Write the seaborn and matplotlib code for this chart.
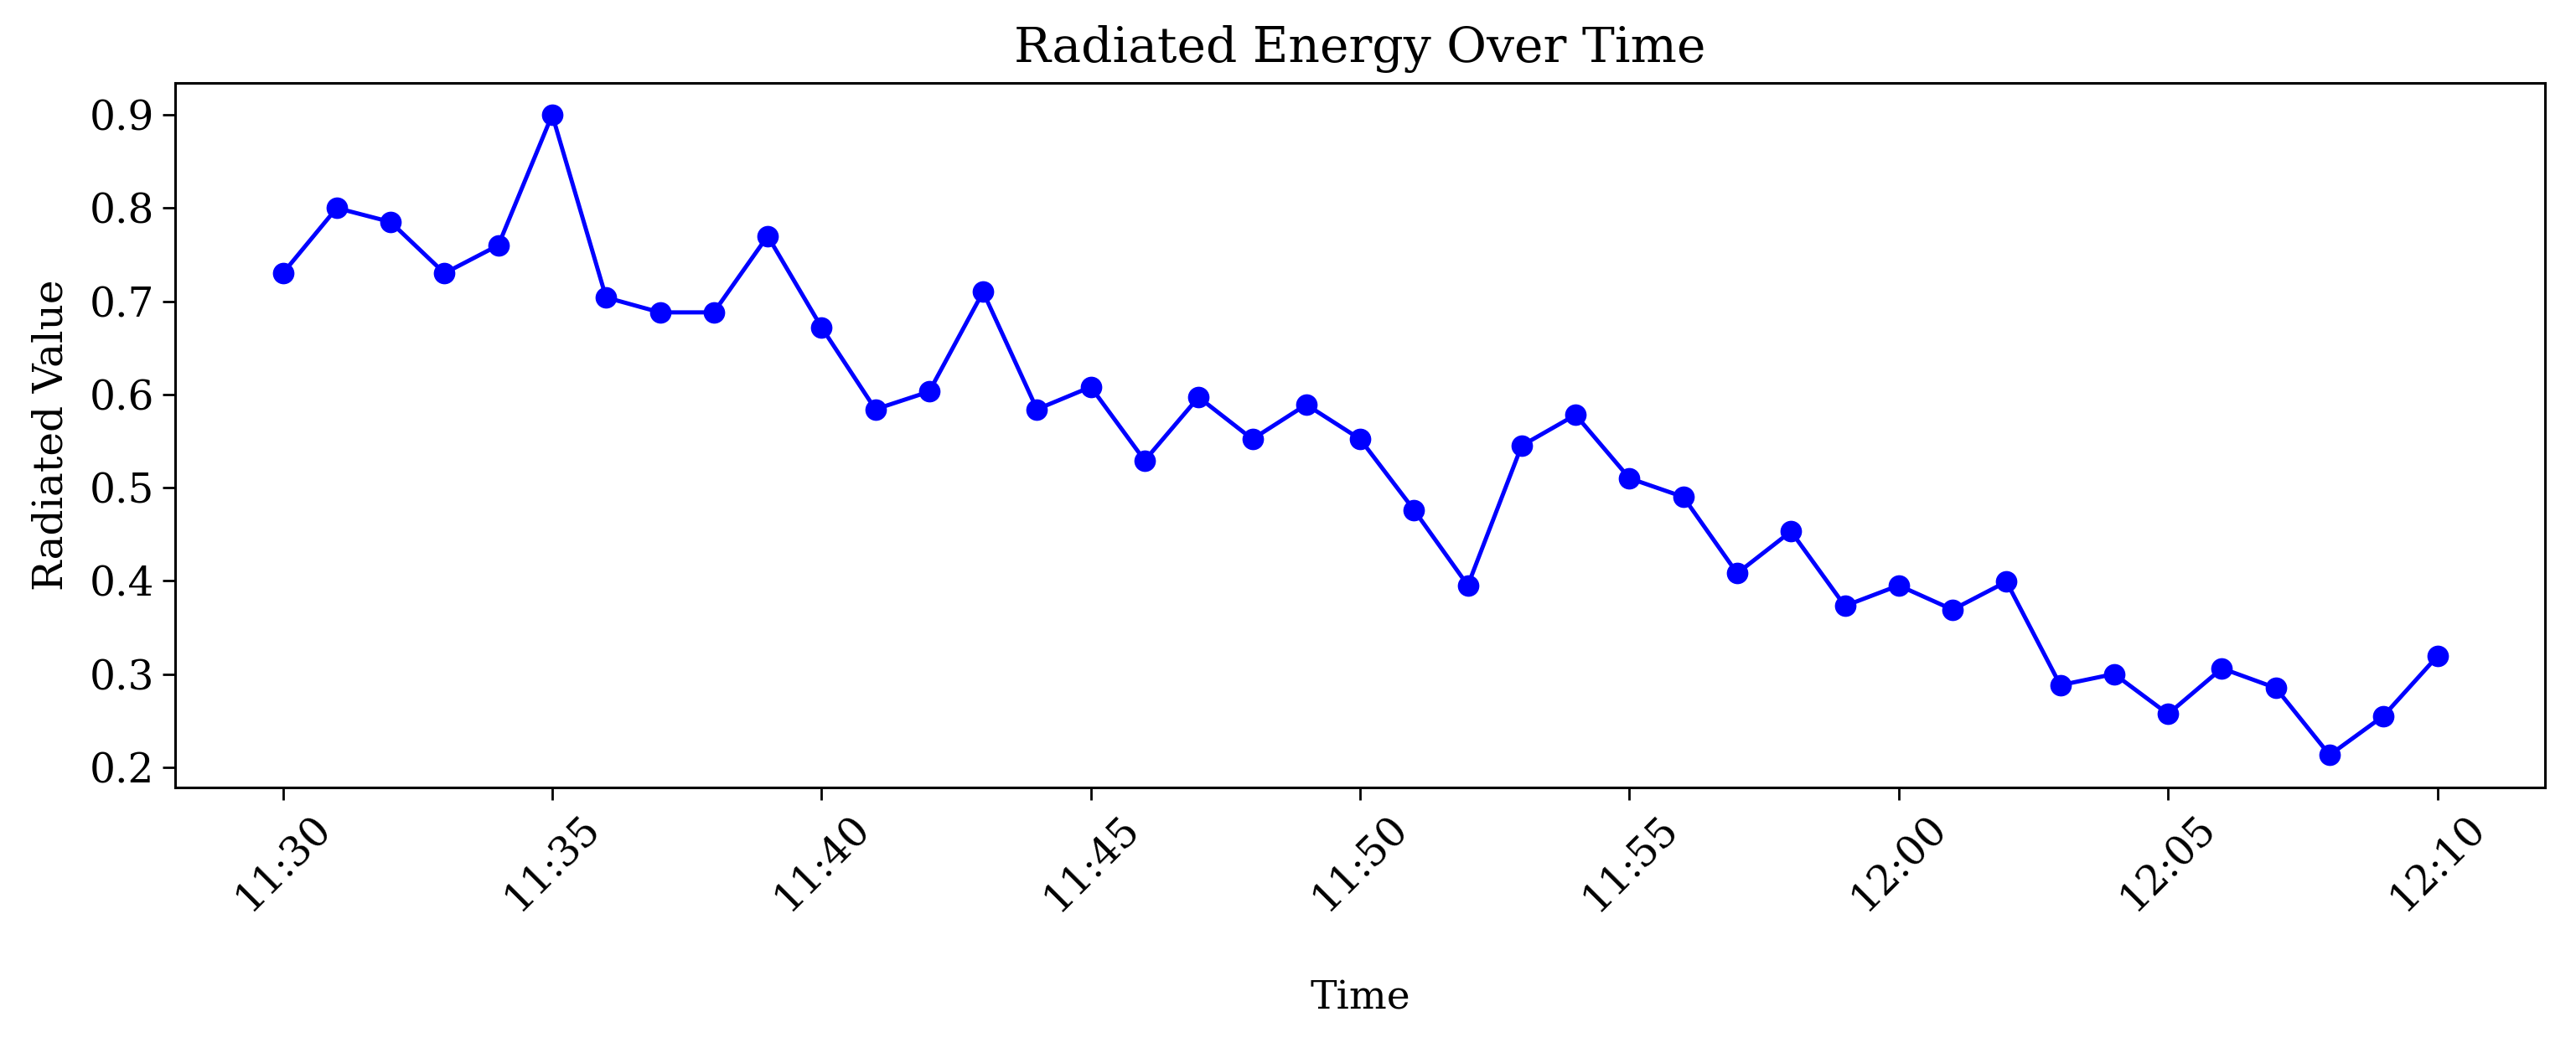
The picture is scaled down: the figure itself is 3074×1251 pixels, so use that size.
import numpy as np
import pandas as pd
import matplotlib
matplotlib.use("Agg")
import matplotlib.pyplot as plt
import matplotlib.dates as mdates
import seaborn as sns

# one reading per minute, 11:30 -> 12:10
times = pd.date_range("2024-01-01 11:30", "2024-01-01 12:10", freq="1min")
radiated = [0.730, 0.800, 0.785, 0.730, 0.760, 0.900, 0.704, 0.688, 0.688, 0.770,
            0.672, 0.584, 0.603, 0.710, 0.584, 0.608, 0.529, 0.597, 0.552, 0.589,
            0.552, 0.476, 0.395, 0.545, 0.578, 0.510, 0.490, 0.408, 0.453, 0.373,
            0.395, 0.369, 0.399, 0.288, 0.300, 0.257, 0.306, 0.285, 0.213, 0.255,
            0.319]

df = pd.DataFrame({"Time": times, "Radiated Value": radiated})

sns.set_theme(style="ticks", rc={
    "axes.edgecolor": "black",
    "axes.linewidth": 1.1,
    "axes.labelcolor": "black",
    "text.color": "black",
    "xtick.color": "black",
    "ytick.color": "black",
    "xtick.major.size": 5.5,
    "ytick.major.size": 5.5,
    "xtick.major.width": 1.0,
    "ytick.major.width": 1.0,
})
plt.rcParams["font.family"] = ["DejaVu Serif"]

fig, ax = plt.subplots(figsize=(15.37, 6.255), dpi=200)
sns.lineplot(data=df, x="Time", y="Radiated Value", ax=ax,
             color="blue", marker="o", markersize=8.5,
             markeredgecolor="blue", linewidth=1.8)

ax.xaxis.set_major_locator(mdates.MinuteLocator(byminute=range(0, 60, 5)))
ax.xaxis.set_major_formatter(mdates.DateFormatter("%H:%M"))
ax.set_yticks([0.2, 0.3, 0.4, 0.5, 0.6, 0.7, 0.8, 0.9])
ax.tick_params(axis="both", labelsize=17.5)
plt.setp(ax.get_xticklabels(), rotation=45)

ax.set_title("Radiated Energy Over Time", fontsize=21, pad=9)
ax.set_xlabel("Time", fontsize=17, labelpad=26)
ax.set_ylabel("Radiated Value", fontsize=17.5, labelpad=8)

fig.subplots_adjust(left=0.068, right=0.988, top=0.921, bottom=0.249)
fig.savefig("out.png", dpi=200)
